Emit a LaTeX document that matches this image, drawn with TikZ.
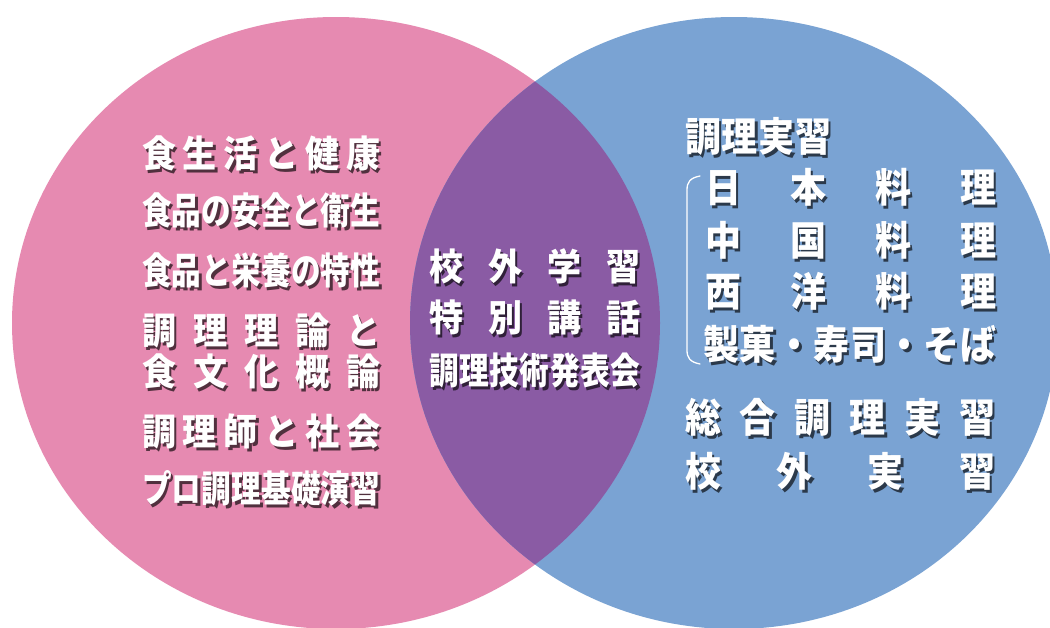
\documentclass[tikz,border=0pt]{standalone}
\usepackage{fontspec}
\newfontfamily\jpA{Noto Sans CJK JP}[FakeStretch=0.92]
\newfontfamily\jpB{Noto Sans CJK JP}[FakeStretch=0.9]
\newfontfamily\jpC{Noto Sans CJK JP}[FakeStretch=0.8]
\definecolor{pinkc}{HTML}{E68AB1}
\definecolor{bluec}{HTML}{7AA3D3}
\definecolor{purplec}{HTML}{8A5BA4}
\colorlet{pinkshd}{pinkc!35!black}
\colorlet{blueshd}{bluec!35!black}
\colorlet{purpshd}{purplec!35!black}
\makeatletter
\def\spr#1{\spr@#1\relax}
\def\spr@#1#2{#1\ifx\relax#2\else\hfill\expandafter\spr@\expandafter#2\fi}
\makeatother
\tikzset{
  txt/.style={inner sep=0pt, anchor=west, text=white},
  brk/.style={draw=white, line width=1.3pt, line cap=round}
}
% name, x, y, width, font family, size, shadow colour, text
\newcommand\jt[8]{%
  \node[txt] (#1) at (#2,#3) {#5\bfseries\fontsize{#6}{#6}\selectfont
    \rlap{\raisebox{-2.5pt}{\hspace{2.5pt}\textcolor{#7}{\makebox[#4pt][s]{\spr{#8}}}}}%
    \makebox[#4pt][s]{\spr{#8}}};
}
\begin{document}
\begin{tikzpicture}[x=1pt,y=-1pt]
\useasboundingbox (0,0) rectangle (1050,627);
\fill[white] (0,0) rectangle (1050,627);
\begin{scope}
  \clip (0,0) rectangle (1050,627);
  \fill[pinkc] (336,323) ellipse [x radius=324, y radius=306];
  \fill[bluec] (734,323) ellipse [x radius=324, y radius=306];
  \begin{scope}
    \clip (336,323) ellipse [x radius=324, y radius=306];
    \fill[purplec] (734,323) ellipse [x radius=324, y radius=306];
  \end{scope}
\end{scope}
% left
\jt{l1}{142}{155}{238}{\jpA}{37}{pinkshd}{食生活と健康}
\jt{l2}{142}{212}{238}{\jpC}{37}{pinkshd}{食品の安全と衛生}
\jt{l3}{142}{272}{238}{\jpC}{37}{pinkshd}{食品と栄養の特性}
\jt{l4}{142}{332}{238}{\jpA}{37}{pinkshd}{調理理論と}
\jt{l5}{142}{373}{238}{\jpA}{37}{pinkshd}{食文化概論}
\jt{l6}{142}{433}{238}{\jpA}{37}{pinkshd}{調理師と社会}
\jt{l7}{142}{490}{238}{\jpC}{37}{pinkshd}{プロ調理基礎演習}
% middle
\jt{m1}{429}{268}{211}{\jpA}{37}{purpshd}{校外学習}
\jt{m2}{429}{319}{211}{\jpA}{37}{purpshd}{特別講話}
\jt{m3}{429}{372}{211}{\jpC}{37}{purpshd}{調理技術発表会}
% right
\jt{r0}{685}{138}{146}{\jpB}{40}{blueshd}{調理実習}
\jt{r1}{705}{189}{291}{\jpB}{40}{blueshd}{日本料理}
\jt{r2}{705}{242}{291}{\jpB}{40}{blueshd}{中国料理}
\jt{r3}{705}{293}{291}{\jpB}{40}{blueshd}{西洋料理}
\jt{r4}{703}{346}{293}{\jpB}{40}{blueshd}{製菓・寿司・そば}
\jt{r5}{685}{419}{310}{\jpB}{40}{blueshd}{総合調理実習}
\jt{r6}{685}{473}{310}{\jpB}{40}{blueshd}{校外実習}
% bracket
\coordinate (bt) at (700,176);
\coordinate (bb) at (700,364);
\draw[brk] (bt) .. controls (690,178) and (687,182) .. (687,190) -- (687,350) .. controls (687,358) and (690,362) .. (bb);
\end{tikzpicture}
\end{document}
